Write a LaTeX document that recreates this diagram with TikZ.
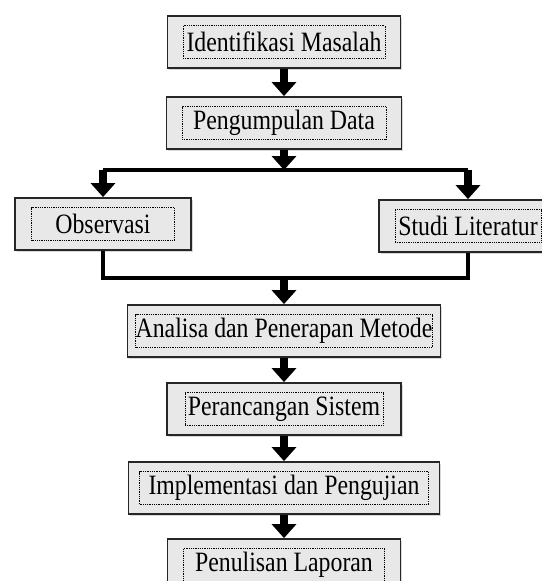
\documentclass[tikz,border=0pt]{standalone}
\usepackage{fontspec}
\setmainfont{Liberation Serif}[FakeStretch=0.85]
\usetikzlibrary{arrows.meta,shadows}

\tikzset{
  box/.style={draw=black!85, line width=1.8pt, fill=black!9, minimum height=52pt, inner sep=0pt,
    drop shadow={opacity=0.3, shadow xshift=1.5pt, shadow yshift=-1.5pt}},
  frame/.style={draw, dash pattern=on 0.9pt off 0.9pt, line width=0.9pt, minimum height=33pt, inner sep=0pt,
    font=\fontsize{28}{30}\selectfont},
  flow/.style={line width=7.5pt, -{Triangle[width=24pt,length=14pt]}},
  link/.style={line width=3.5pt, line join=miter},
}

\begin{document}
\begin{tikzpicture}[x=1pt,y=-1pt]
    \useasboundingbox (0,0) rectangle (541,581);

    % Main column of steps
    \node[box, minimum width=233pt] (ident) at (284,42) {};
    \node[frame, minimum width=202pt] (ident-t) at (ident) {Identifikasi Masalah};

    \node[box, minimum width=235pt] (kumpul) at (284,123) {};
    \node[frame, minimum width=204pt] (kumpul-t) at (kumpul) {Pengumpulan Data};

    % Two branches
    \node[box, minimum width=176pt] (obs) at (103,224) {};
    \node[frame, minimum width=143pt] (obs-t) at (obs) {Observasi};

    \node[box, minimum width=178pt] (studi) at (468,226) {};
    \node[frame, minimum width=146pt] (studi-t) at (studi) {Studi Literatur};

    \node[box, minimum width=313pt] (analisa) at (284,331) {};
    \node[frame, minimum width=290pt] (analisa-t) at (analisa) {Analisa dan Penerapan Metode};

    \node[box, minimum width=234pt] (rancang) at (284,409) {};
    \node[frame, minimum width=198pt] (rancang-t) at (rancang) {Perancangan Sistem};

    \node[box, minimum width=311pt] (implement) at (284,488) {};
    \node[frame, minimum width=289pt] (implement-t) at (implement) {Implementasi dan Pengujian};

    \node[box, minimum width=233pt] (tulis) at (284,565) {};
    \node[frame, minimum width=201pt] (tulis-t) at (tulis) {Penulisan Laporan};

    % Split and join points
    \coordinate (split) at (284,170);
    \coordinate (join) at (284,278);

    % Arrows
    \draw[flow] (ident.south) -- (kumpul.north);
    \draw[flow] (kumpul.south) -- (split);
    \draw[link] (obs.north |- split) -- (studi.north |- split);
    \draw[flow] (obs.north |- split) -- (obs.north);
    \draw[flow] (studi.north |- split) -- (studi.north);
    \draw[link] (obs.south) |- (join) -| (studi.south);
    \draw[flow] (join) -- (analisa.north);
    \draw[flow] (analisa.south) -- (rancang.north);
    \draw[flow] (rancang.south) -- (implement.north);
    \draw[flow] (implement.south) -- (tulis.north);
\end{tikzpicture}
\end{document}
